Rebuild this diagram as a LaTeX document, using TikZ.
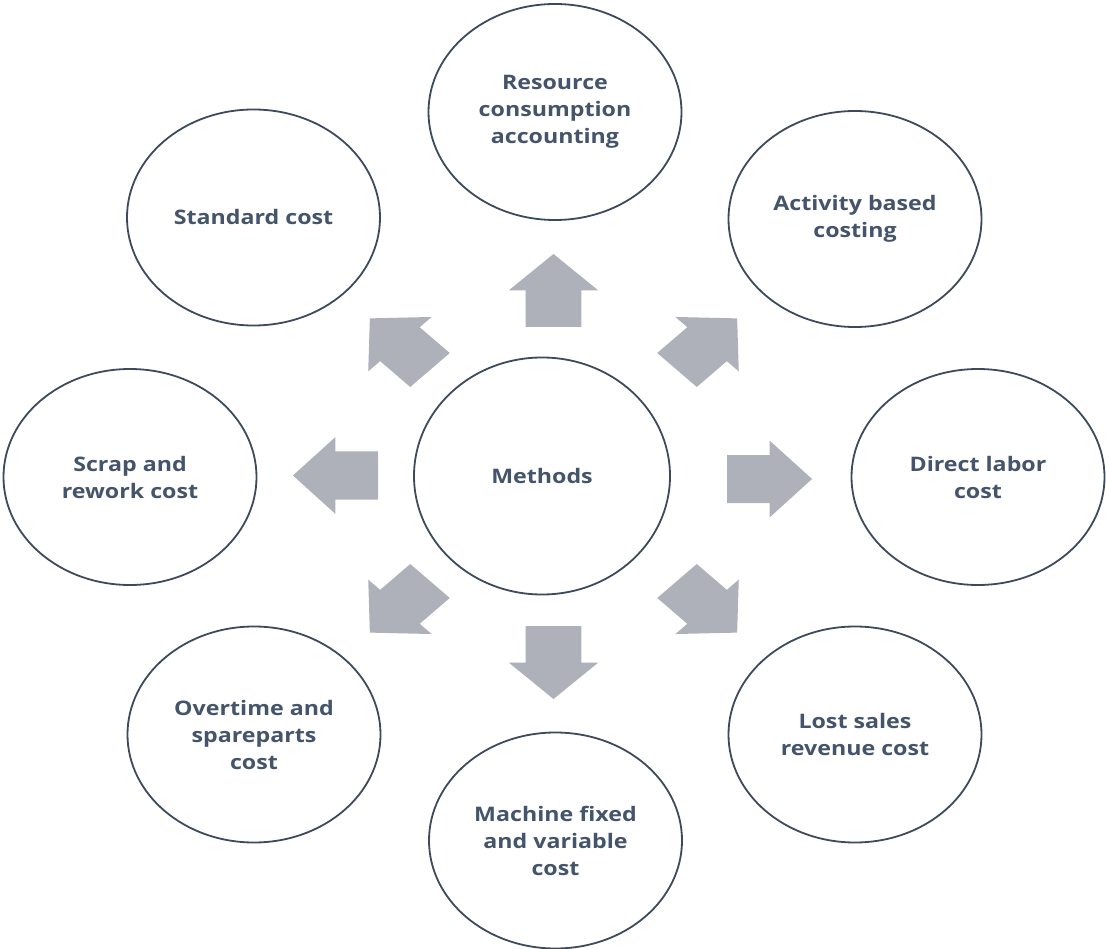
\documentclass[tikz,border=0pt]{standalone}
\usepackage{fontspec}
\newfontfamily\labelfont{Open Sans}[FakeStretch=1.16]
\usetikzlibrary{shapes.geometric}

\definecolor{ink}{HTML}{44546A}
\definecolor{rim}{HTML}{3E4A5C}
\definecolor{arrowgray}{HTML}{AEB1B9}

% block arrow: #1 = centre of the shaft end, #2 = direction (degrees)
\newcommand{\blockarrow}[2]{%
  \fill[arrowgray, shift={(#1)}, xscale=1.165, rotate=#2]
    (0,-24) -- (36.5,-24) -- (36.5,-38.5) -- (73,0) -- (36.5,38.5)
    -- (36.5,24) -- (0,24) -- cycle;}

\begin{document}
\begin{tikzpicture}[x=1pt, y=-1pt,
  bubble/.style={ellipse, draw=rim, line width=1.8pt, fill=white,
    minimum width=253pt, minimum height=216pt, inner sep=0pt,
    align=center, text=ink,
    font=\labelfont\bfseries\fontsize{20}{27}\selectfont},
  hub/.style={bubble, minimum width=256pt, minimum height=237pt}]
  \useasboundingbox (0,0) rectangle (1106,949);

  % centre and the eight methods around it
  \node[hub]    (methods)  at (542,476)   {Methods};
  \node[bubble] (rca)      at (555,112)   {Resource\\consumption\\accounting};
  \node[bubble] (abc)      at (855,219)   {Activity based\\costing};
  \node[bubble] (labor)    at (978,477)   {Direct labor\\cost};
  \node[bubble] (lost)     at (855,734.5) {Lost sales\\revenue cost};
  \node[bubble] (machine)  at (555.5,840.5) {Machine fixed\\and variable\\cost};
  \node[bubble] (overtime) at (254,734.5) {Overtime and\\spareparts\\cost};
  \node[bubble] (scrap)    at (130,477)   {Scrap and\\rework cost};
  \node[bubble] (standard) at (253.5,217.5) {Standard cost};

  % arrows pointing outwards from the centre
  \blockarrow{553.5,327}{90}
  \blockarrow{553.5,626}{270}
  \blockarrow{378,475.5}{180}
  \blockarrow{727,479}{0}
  \blockarrow{430,370}{135}
  \blockarrow{677,370}{45}
  \blockarrow{430,581}{225}
  \blockarrow{677,581}{315}
\end{tikzpicture}
\end{document}
